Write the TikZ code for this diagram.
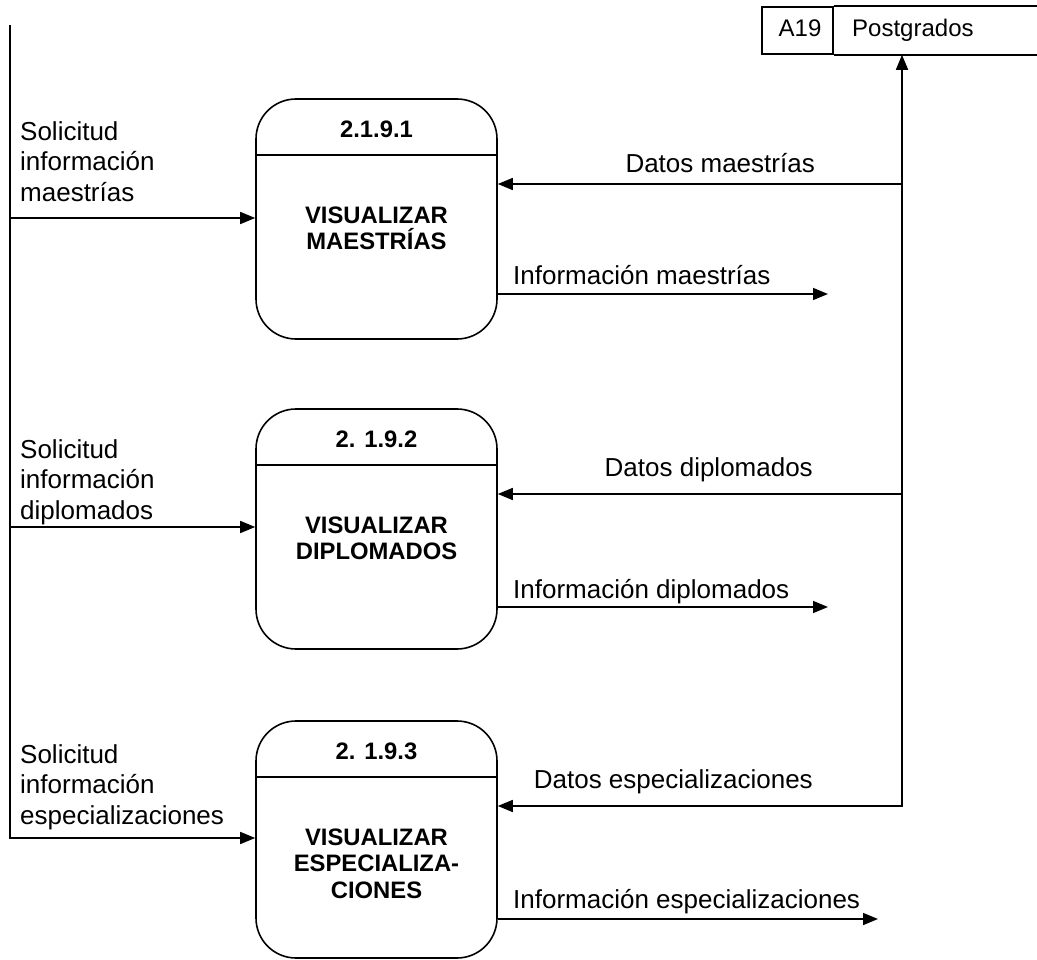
\documentclass[tikz,border=0pt]{standalone}
\usepackage{fontspec}
\setmainfont{Liberation Sans}
\usepackage{tikz}
\usetikzlibrary{arrows.meta, calc}

\begin{document}
\begin{tikzpicture}[
    x=1pt, y=-1pt,
    >={Triangle[length=15pt, width=12pt]},
    proc/.style={draw, line width=1.6pt, rounded corners=40pt, minimum width=241pt, minimum height=240pt, inner sep=0pt},
    divider/.style={line width=1.6pt},
    flow/.style={->, line width=1.6pt},
    idtxt/.style={font=\fontsize{23.8}{26.5}\selectfont\bfseries, inner sep=0pt, anchor=base},
    bodytxt/.style={font=\fontsize{23.8}{26.5}\selectfont\bfseries, align=center, inner sep=0pt, anchor=north},
    lbl/.style={font=\fontsize{26}{30.5}\selectfont, inner sep=0pt},
    storebox/.style={draw, line width=1.6pt, minimum width=71pt, minimum height=47pt, inner sep=0pt},
    storetxt/.style={font=\fontsize{24}{27}\selectfont, inner sep=0pt}
]
\useasboundingbox (0,0) rectangle (1037,960);

\node[proc] (p1) at (376.5,219) {};
\node[proc] (p2) at (376.5,529) {};
\node[proc, minimum height=237pt] (p3) at (376.5,839.5) {};

\node[idtxt] (n1) at ($(p1.north)+(0,39)$) {2.1.9.1};
\node[idtxt] (n2) at ($(p2.north)+(0,39)$) {2. 1.9.2};
\node[idtxt] (n3) at ($(p3.north)+(0,39)$) {2. 1.9.3};
\draw[divider] ($(p1.north west)+(0,57)$) -- ($(p1.north east)+(0,57)$);
\draw[divider] ($(p2.north west)+(0,57)$) -- ($(p2.north east)+(0,57)$);
\draw[divider] ($(p3.north west)+(0,57)$) -- ($(p3.north east)+(0,57)$);
\node[bodytxt] (v1) at ($(p1.north)+(0,108)$) {VISUALIZAR\\MAESTRÍAS};
\node[bodytxt] (v2) at ($(p2.north)+(0,108)$) {VISUALIZAR\\DIPLOMADOS};
\node[bodytxt] (v3) at ($(p3.north)+(0,108)$) {VISUALIZAR\\ESPECIALIZA-\\CIONES};

\node[storebox] (store) at (797.5,30.5) {};
\node[storetxt, anchor=base] (sid) at (800,37) {A19};
\node[storetxt, anchor=base west] (sname) at (852,37) {Postgrados};
\draw[divider] (store.north east) -- ++(206,0);
\draw[divider] (store.south east) -- ++(206,0);

\coordinate (top) at (10,25);
\coordinate (s1) at (10,218);
\coordinate (s2) at (10,527);
\coordinate (s3) at (10,838);
\coordinate (d1) at (902,184);
\coordinate (d2) at (902,494);
\coordinate (d3) at (902,806);
\coordinate (o1) at (828,294);
\coordinate (o2) at (828,607);
\coordinate (o3) at (878,919);

\draw[flow] (top) -- (s3) -- (s3 -| p3.west);
\draw[flow] (s1) -- (s1 -| p1.west);
\draw[flow] (s2) -- (s2 -| p2.west);
\draw[flow, <->] (d3 |- store.south) -- (d3) -- (d3 -| p3.east);
\draw[flow] (d1) -- (d1 -| p1.east);
\draw[flow] (d2) -- (d2 -| p2.east);
\draw[flow] (o1 -| p1.east) -- (o1);
\draw[flow] (o2 -| p2.east) -- (o2);
\draw[flow] (o3 -| p3.east) -- (o3);

\node[lbl, align=left, anchor=north west] (q1) at (20,121) {Solicitud\\información\\maestrías};
\node[lbl, align=left, anchor=north west] (q2) at (20,439) {Solicitud\\información\\diplomados};
\node[lbl, align=left, anchor=north west] (q3) at (20,744) {Solicitud\\información\\especializaciones};
\node[lbl, anchor=base east] (dm) at (815,173) {Datos maestrías};
\node[lbl, anchor=base east] (dd) at (813,476) {Datos diplomados};
\node[lbl, anchor=base east] (de) at (813,788) {Datos especializaciones};
\node[lbl, anchor=base west] (im) at (513,285) {Información maestrías};
\node[lbl, anchor=base west] (id) at (513,598) {Información diplomados};
\node[lbl, anchor=base west] (ie) at (513,908) {Información especializaciones};
\end{tikzpicture}
\end{document}
